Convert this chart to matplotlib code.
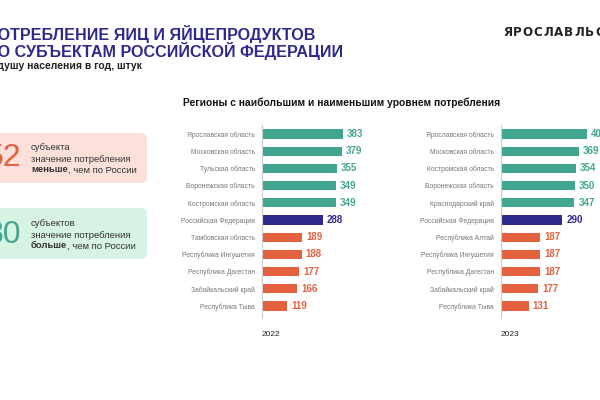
import matplotlib.pyplot as plt
from matplotlib.patches import FancyBboxPatch

plt.rcParams['font.family'] = ['Liberation Sans', 'DejaVu Sans']

# data
regions_2022 = ["Ярославская область", "Московская область", "Тульская область",
                "Воронежская область", "Костромская область", "Российская Федерация",
                "Тамбовская область", "Республика Ингушетия", "Республика Дагестан",
                "Забайкальский край", "Республика Тыва"]
values_2022 = [383, 379, 355, 349, 349, 288, 189, 188, 177, 166, 119]

regions_2023 = ["Ярославская область", "Московская область", "Костромская область",
                "Воронежская область", "Краснодарский край", "Российская Федерация",
                "Республика Алтай", "Республика Ингушетия", "Республика Дагестан",
                "Забайкальский край", "Республика Тыва"]
values_2023 = [406, 369, 354, 350, 347, 290, 187, 187, 187, 177, 131]

less_count = 52
more_count = 80

TEAL = "#41A68F"
NAVY = "#2E2A8C"
ORANGE = "#E4613F"
W, H = 600, 400

fig = plt.figure(figsize=(6, 4), dpi=100)
bg = fig.add_axes([0, 0, 1, 1])
bg.set_xlim(0, W)
bg.set_ylim(H, 0)
bg.axis("off")

fig.canvas.draw()
rend = fig.canvas.get_renderer()


def text_right_edge(t):
    bb = t.get_window_extent(renderer=rend)
    return bg.transData.inverted().transform((bb.x1, 0))[0]


# titles
bg.text(315, 34, "ПОТРЕБЛЕНИЕ ЯИЦ И ЯЙЦЕПРОДУКТОВ", ha="right", va="center",
        fontsize=11.6, fontweight="bold", color=NAVY)
bg.text(343, 51, "ПО СУБЪЕКТАМ РОССИЙСКОЙ ФЕДЕРАЦИИ", ha="right", va="center",
        fontsize=11.6, fontweight="bold", color=NAVY)
bg.text(142, 66, "На душу населения в год, штук", ha="right", va="center",
        fontsize=7.5, fontweight="bold", color="#222222")

# logo text, wide letters
xc = 503
for ch in "ЯРОСЛАВЛЬСТАТ":
    t = bg.text(xc, 33, ch, ha="left", va="center", fontsize=8.6,
                fontweight="bold", color="#222222", family="DejaVu Sans")
    xc = text_right_edge(t) + 0.9

bg.text(342, 103, "Регионы с наибольшим и наименьшим уровнем потребления",
        ha="center", va="center", fontsize=7.4, fontweight="bold", color="#111111")

# side boxes
bg.add_patch(FancyBboxPatch((-20, 133), 167, 50, boxstyle="round,pad=0,rounding_size=6",
                            fc="#FCE0DA", ec="none"))
bg.add_patch(FancyBboxPatch((-20, 208), 167, 51, boxstyle="round,pad=0,rounding_size=6",
                            fc="#D6F3E3", ec="none"))
bg.text(21, 158, str(less_count), ha="right", va="center", fontsize=23,
        fontweight="light", color=ORANGE)
bg.text(21, 235, str(more_count), ha="right", va="center", fontsize=23,
        fontweight="light", color=TEAL)


def mixed_line(x, y, bold_part, rest):
    t = bg.text(x, y, bold_part, ha="left", va="center", fontsize=6.8,
                fontweight="bold", color="#333333")
    bg.text(text_right_edge(t), y, rest, ha="left", va="center", fontsize=6.8,
            color="#333333")


bg.text(31, 148, "субъекта", ha="left", va="center", fontsize=6.8, color="#333333")
bg.text(31, 159, "значение потребления", ha="left", va="center", fontsize=6.8, color="#333333")
mixed_line(31, 170, "меньше", ", чем по России")
bg.text(31, 223, "субъектов", ha="left", va="center", fontsize=6.8, color="#333333")
bg.text(31, 235, "значение потребления", ha="left", va="center", fontsize=6.8, color="#333333")
mixed_line(31, 246, "больше", ", чем по России")


def bar_panel(x0, x1, regions, values, year):
    top, bot = 125, 318
    ax = fig.add_axes([x0 / W, 1 - bot / H, (x1 - x0) / W, (bot - top) / H])
    scale = 0.2112  # px per unit
    ax.set_xlim(0, (x1 - x0) / scale)
    ax.set_ylim(10 + (bot - 306) / 17.2, -(134 - top) / 17.2)
    colors = [TEAL] * 5 + [NAVY] + [ORANGE] * 5
    ypos = list(range(len(values)))
    ax.barh(ypos, values, height=0.53, color=colors)
    for y, v, c in zip(ypos, values, colors):
        ax.text(v + 4 / scale, y, str(v), ha="left", va="center", fontsize=7,
                fontweight="bold", color=c, clip_on=False)
    ax.set_yticks(ypos)
    ax.set_yticklabels(regions, fontsize=4.9, color="#777777")
    ax.tick_params(axis="y", length=0, pad=5)
    ax.set_xticks([])
    for s in ["top", "right", "bottom"]:
        ax.spines[s].set_visible(False)
    ax.spines["left"].set_color("#CCCCCC")
    ax.spines["left"].set_linewidth(0.8)
    ax.patch.set_alpha(0)
    bg.text(x0, 335, year, ha="left", va="center", fontsize=6, color="#222222")


bar_panel(262, 400, regions_2022, values_2022, "2022")
bar_panel(501, 640, regions_2023, values_2023, "2023")

fig.savefig("out.png", dpi=100)
